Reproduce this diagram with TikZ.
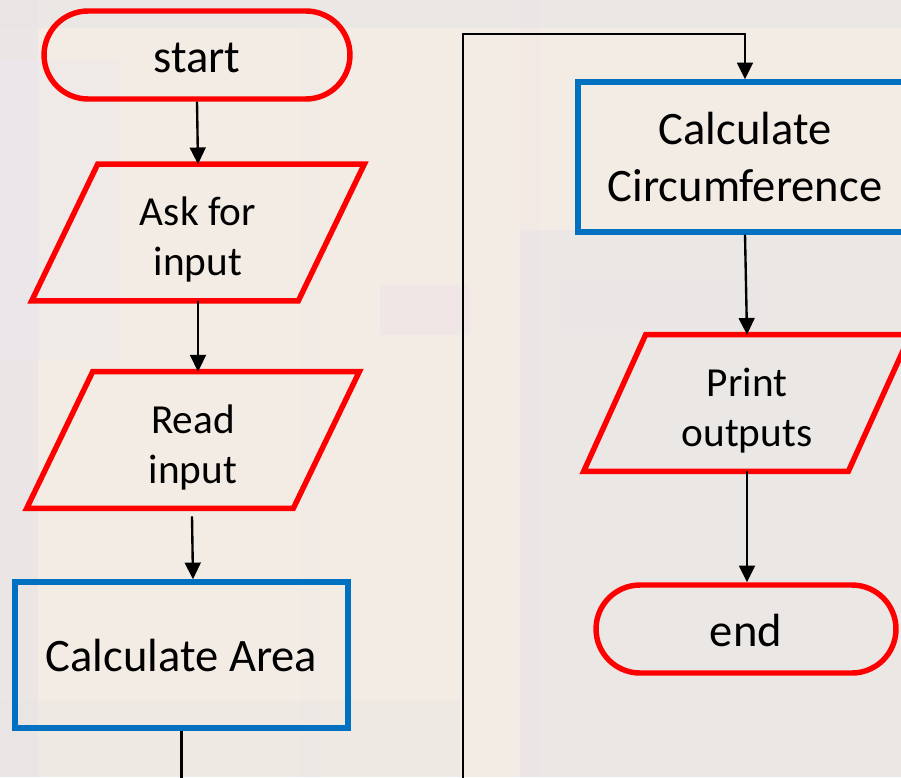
\documentclass[tikz,border=0pt]{standalone}
\usepackage{fontspec}
\setmainfont{Carlito}
\usetikzlibrary{calc,arrows.meta}

\definecolor{flowred}{RGB}{255,0,0}
\definecolor{flowblue}{RGB}{0,112,192}
\definecolor{paper}{RGB}{243,236,228}
\definecolor{boardgrey}{RGB}{233,229,230}
\definecolor{boardpink}{RGB}{240,226,232}
\definecolor{boardlav}{RGB}{236,230,238}

\newcommand{\topstrut}{\rule{0pt}{24.5pt}}

\tikzset{
  terminal/.style={draw=flowred, line width=3.1pt, rectangle, rounded corners=0.88cm,
    minimum width=6.12cm, minimum height=1.76cm, text height=24.5pt, text depth=4.5pt,
    font=\fontsize{26.5}{32}\selectfont},
  procbox/.style={draw=flowblue, line width=3.1pt, rectangle, align=center,
    font=\fontsize{26.5}{32}\selectfont},
  iobox/.style={rectangle, inner sep=0pt, align=center,
    minimum width=6.64cm, minimum height=2.72cm, font=\fontsize{23.5}{28.5}\selectfont},
  ioedge/.style={draw=flowred, line width=3.1pt, line join=miter},
  flow/.style={line width=1.35pt, -{Triangle[length=9.5pt,width=9pt]}},
}

\begin{document}
\begin{tikzpicture}[x=0.02cm, y=-0.02cm]
\useasboundingbox (0,0) rectangle (901,777);
\clip (0,0) rectangle (901,777);

% faded circuit-board backdrop
\fill[paper] (0,0) rectangle (901,777);
\fill[boardgrey, opacity=0.7] (0,0) rectangle (901,28);
\fill[boardgrey, opacity=0.8] (0,0) rectangle (38,777);
\fill[boardgrey, opacity=0.7] (520,230) rectangle (901,777);
\fill[boardlav, opacity=0.45] (0,60) rectangle (120,360);
\fill[boardpink, opacity=0.5] (380,285) rectangle (470,335);
\fill[boardpink, opacity=0.25] (520,0) rectangle (540,777);
\fill[boardpink, opacity=0.2] (300,30) rectangle (320,777);
\fill[boardgrey, opacity=0.45] (560,280) rectangle (760,330);
\fill[boardgrey, opacity=0.35] (0,700) rectangle (460,777);

% left column
\node[terminal] (start) at (197,55) {start};
\node[iobox] (ask) at (198,232.5) {\topstrut Ask for\\input};
\node[iobox] (read) at (193,440) {\topstrut Read\\input};
\node[procbox, minimum width=6.66cm, minimum height=2.92cm] (area) at (181.5,655) {Calculate Area};

% right column
\node[procbox, minimum width=6.68cm, minimum height=3.0cm] (circ) at (745,157) {Calculate\\Circumference};
\node[iobox, minimum width=6.52cm] (print) at (747,403) {\topstrut Print\\outputs};
\node[terminal, minimum width=6.0cm] (end) at (746,629) {end};

% parallelogram outlines of the input/output nodes
\draw[ioedge] ($(ask.north west)+(66,0)$) -- (ask.north east)
  -- ($(ask.south east)+(-66,0)$) -- (ask.south west) -- cycle;
\draw[ioedge] ($(read.north west)+(66,0)$) -- (read.north east)
  -- ($(read.south east)+(-66,0)$) -- (read.south west) -- cycle;
\draw[ioedge] ($(print.north west)+(62,0)$) -- (print.north east)
  -- ($(print.south east)+(-62,0)$) -- (print.south west) -- cycle;

% connectors
\coordinate (loopbot) at (463,830);
\coordinate (looptop) at (463,34);
\draw[flow] (start.south) -- (ask.north);
\draw[flow] (ask.south) -- (ask.south |- read.north);
\draw[flow] ($(read.south)+(-1,8)$) -- (read.south |- area.north);
\draw[flow] (area.south) -- (area.south |- loopbot) -- (loopbot) -- (looptop)
  -- (looptop -| circ.north) -- (circ.north);
\draw[flow] (circ.south) -- (print.north);
\draw[flow] (print.south) -- (print.south |- end.north);
\end{tikzpicture}
\end{document}
